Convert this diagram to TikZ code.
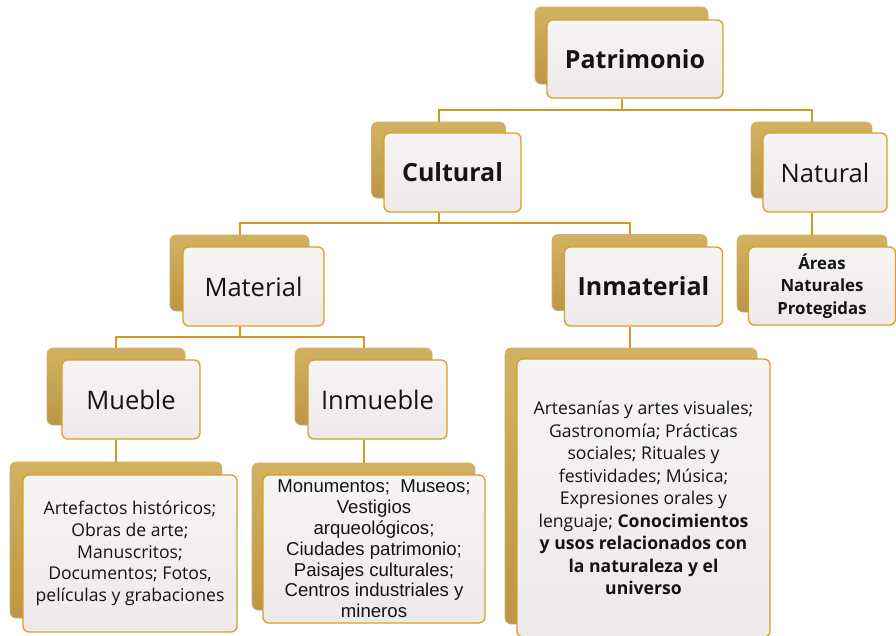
\documentclass[tikz,border=0pt]{standalone}
\usepackage{fontspec}
\setmainfont{Open Sans}
\newfontfamily\arialf{Liberation Sans}
\usetikzlibrary{calc}
\definecolor{goldline}{RGB}{214,152,30}
\definecolor{goldborder}{RGB}{218,160,36}
\definecolor{backtop}{RGB}{210,178,98}
\definecolor{backbot}{RGB}{188,150,68}
\definecolor{backedge}{RGB}{196,176,134}
\definecolor{fronttop}{RGB}{247,244,244}
\definecolor{frontbot}{RGB}{238,233,234}
\definecolor{txt}{RGB}{20,20,20}
\tikzset{
  backbox/.style={rounded corners=6pt, top color=backtop, bottom color=backbot, draw=backedge, line width=0.6pt, inner sep=0pt},
  frontbox/.style={rounded corners=6pt, top color=fronttop, bottom color=frontbot, draw=goldborder, line width=1.3pt, align=center, inner sep=2pt, text=txt},
  conn/.style={draw=goldline, line width=2pt},
  titlefont/.style={font=\fontsize{25.5}{28}\selectfont},
  titlebold/.style={font=\fontsize{25}{28}\selectfont\bfseries},
  bodyfont/.style={font=\fontsize{17.6}{21.6}\selectfont},
}
\begin{document}
\begin{tikzpicture}[x=1pt,y=-1pt]
\useasboundingbox (0,0) rectangle (896,635);
\fill[white] (0,0) rectangle (896,635);
% Patrimonio
\node[backbox, minimum width=173pt, minimum height=77pt] (patB) at (621.5,45.5) {};
\node[frontbox, titlebold, minimum width=176pt, minimum height=78pt] (pat) at (635,59) {Patrimonio};
% Cultural
\node[backbox, minimum width=134pt, minimum height=76pt] (culB) at (438.5,160) {};
\node[frontbox, titlebold, minimum width=137pt, minimum height=79pt] (cul) at (452.5,172.5) {Cultural};
% Natural
\node[backbox, minimum width=121pt, minimum height=76pt] (natB) at (811.5,160) {};
\node[frontbox, titlefont, minimum width=124pt, minimum height=79pt] (nat) at (825,172.5) {Natural};
% Material
\node[backbox, minimum width=139pt, minimum height=76pt] (matB) at (239.5,273) {};
\node[frontbox, titlefont, minimum width=141pt, minimum height=79pt] (mat) at (253.5,286.5) {Material};
% Inmaterial
\node[backbox, minimum width=155pt, minimum height=76pt] (inmB) at (629.5,272.5) {};
\node[frontbox, titlebold, minimum width=158pt, minimum height=79pt] (inm) at (643.5,286.5) {Inmaterial};
% Areas
\node[backbox, minimum width=150pt, minimum height=77pt] (areB) at (812,273.5) {};
\node[frontbox, font=\fontsize{16.8}{22.5}\selectfont\bfseries, minimum width=147pt, minimum height=78pt] (are) at (822,286) {Áreas\\Naturales\\Protegidas};
% Mueble
\node[backbox, minimum width=138pt, minimum height=77pt] (mueB) at (116,386.5) {};
\node[frontbox, titlefont, minimum width=138pt, minimum height=79pt] (mue) at (131,399.5) {Mueble};
% Inmueble
\node[backbox, minimum width=137pt, minimum height=77pt] (inuB) at (363.5,386.5) {};
\node[frontbox, titlefont, minimum width=139pt, minimum height=79pt] (inu) at (377.5,399.5) {Inmueble};
% Artefactos
\node[backbox, minimum width=212pt, minimum height=156pt] (artB) at (116,540) {};
\node[frontbox, bodyfont, minimum width=214pt, minimum height=157pt] (art) at (130,553.5) {Artefactos históricos;\\Obras de arte;\\Manuscritos;\\Documentos; Fotos,\\películas y grabaciones};
% Monumentos
\node[backbox, minimum width=223pt, minimum height=147pt] (monB) at (363.5,536.5) {};
\node[frontbox, font=\fontsize{18.6}{20.8}\selectfont\arialf, inner sep=0pt, minimum width=222pt, minimum height=148pt] (mon) at (374,549) {Monumentos;\ \ Museos;\\Vestigios\\arqueológicos;\\Ciudades patrimonio;\\Paisajes culturales;\\Centros industriales y\\mineros};
% Inmaterial text
\node[backbox, minimum width=252pt, minimum height=276pt] (imtB) at (631,486) {};
\node[frontbox, font=\fontsize{17.6}{22.5}\selectfont, minimum width=253pt, minimum height=278pt] (imt) at (643.5,498) {Artesanías y artes visuales;\\Gastronomía; Prácticas\\sociales; Rituales y\\festividades; Música;\\Expresiones orales y\\lenguaje; \textbf{Conocimientos}\\\textbf{y usos relacionados con}\\\textbf{la naturaleza y el}\\\textbf{universo}};
% connectors
\coordinate (j1) at (0,110);
\coordinate (j2) at (0,223);
\coordinate (j3) at (0,337);
\draw[conn] (pat.south -| patB.center) -- (j1 -| patB.center);
\draw[conn] (culB.north) -- (culB.north |- j1) -- (natB.north |- j1) -- (natB.north);
\draw[conn] (cul.south -| culB.center) -- (j2 -| culB.center);
\draw[conn] (matB.north) -- (matB.north |- j2) -- (inmB.north |- j2) -- (inmB.north);
\draw[conn] (nat.south -| natB.center) -- (areB.north -| natB.center);
\draw[conn] (mat.south -| matB.center) -- (j3 -| matB.center);
\draw[conn] (mueB.north) -- (mueB.north |- j3) -- (inuB.north |- j3) -- (inuB.north);
\draw[conn] (mue.south -| mueB.center) -- (artB.north -| mueB.center);
\draw[conn] (inu.south -| inuB.center) -- (monB.north -| inuB.center);
\draw[conn] (inm.south -| inmB.center) -- (imtB.north -| inmB.center);
\end{tikzpicture}
\end{document}
